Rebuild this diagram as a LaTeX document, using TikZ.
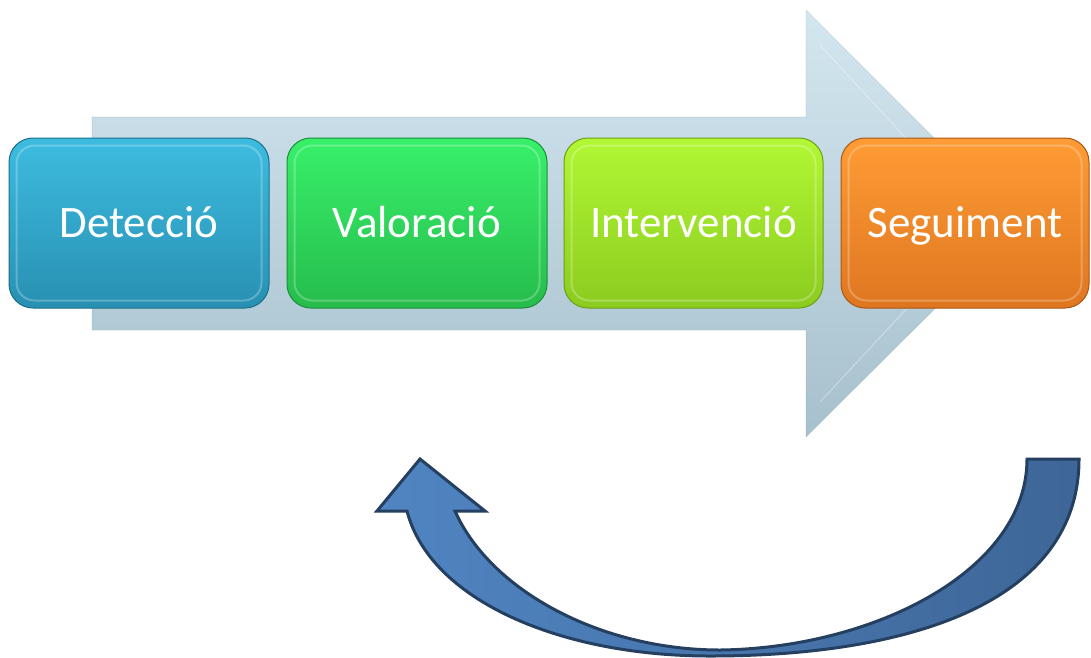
\documentclass[tikz,border=0pt]{standalone}
\usepackage{fontspec}
\setmainfont{Carlito}
\usetikzlibrary{calc}
\definecolor{arrTop}{HTML}{D4E7F0}
\definecolor{arrBot}{HTML}{A6C0CC}
\definecolor{detT}{HTML}{3DBCE0}
\definecolor{detB}{HTML}{2890B2}
\definecolor{detD}{HTML}{1B6E88}
\definecolor{valT}{HTML}{38F06A}
\definecolor{valB}{HTML}{26BC4C}
\definecolor{valD}{HTML}{1C8E3A}
\definecolor{intT}{HTML}{B2F834}
\definecolor{intB}{HTML}{8BCB1F}
\definecolor{intD}{HTML}{6C9E16}
\definecolor{segT}{HTML}{FF9C35}
\definecolor{segB}{HTML}{DE7620}
\definecolor{segD}{HTML}{A9561A}
\definecolor{curL}{HTML}{5085C2}
\definecolor{curR}{HTML}{3E6697}
\definecolor{curD}{HTML}{243F60}
\begin{document}
\begin{tikzpicture}[x=1pt,y=-1pt,
  stepbox/.style={rounded corners=24pt, minimum height=170pt, line width=1pt,
    text=white, font=\fontsize{45}{54}\selectfont, inner sep=0pt,
    text height=29pt, text depth=0pt},
  glint/.style={rounded corners=18pt, draw=white, draw opacity=0.25, line width=2pt},
  bigarrow/.style={top color=arrTop, bottom color=arrBot, draw=arrBot!80!black, draw opacity=0.25, line width=0.6pt},
  bevel/.style={draw=white, draw opacity=0.35, line width=1pt},
  curvarrow/.style={left color=curL, right color=curR, draw=curD, line width=3pt, line join=miter}
]
\useasboundingbox (0,0) rectangle (1091,657);
% big background arrow
\path[bigarrow] (92,117) -- (806,117) -- (806,10) -- (1020,224) -- (806,437) -- (806,330) -- (92,330) -- cycle;
\path[bevel] (820,45) -- (985,224) -- (820,402);
% boxes
\node[stepbox, minimum width=260pt, top color=detT, bottom color=detB, draw=detD] (det) at (139,223) {Detecció};
\node[stepbox, minimum width=260pt, top color=valT, bottom color=valB, draw=valD] (val) at (417,223) {Valoració};
\node[stepbox, minimum width=259pt, top color=intT, bottom color=intB, draw=intD] (int) at (693.5,223) {Intervenció};
\node[stepbox, minimum width=248pt, top color=segT, bottom color=segB, draw=segD] (seg) at (965,223) {Seguiment};
\foreach \n in {det,val,int,seg}{
  \path[glint] ($(\n.south west)+(8,-8)$) rectangle ($(\n.north east)+(-8,8)$);
}
% curved return arrow
\path[curvarrow] (1027,459) -- (1079,459)
  .. controls (1079,600) and (915,656) .. (710,656)
  .. controls (560,656) and (430,600) .. (407,511)
  -- (377,511) -- (420,459) -- (485,511) -- (455,511)
  .. controls (490,590) and (600,650) .. (720,650)
  .. controls (875,648) and (1027,570) .. (1027,459) -- cycle;
\end{tikzpicture}
\end{document}
